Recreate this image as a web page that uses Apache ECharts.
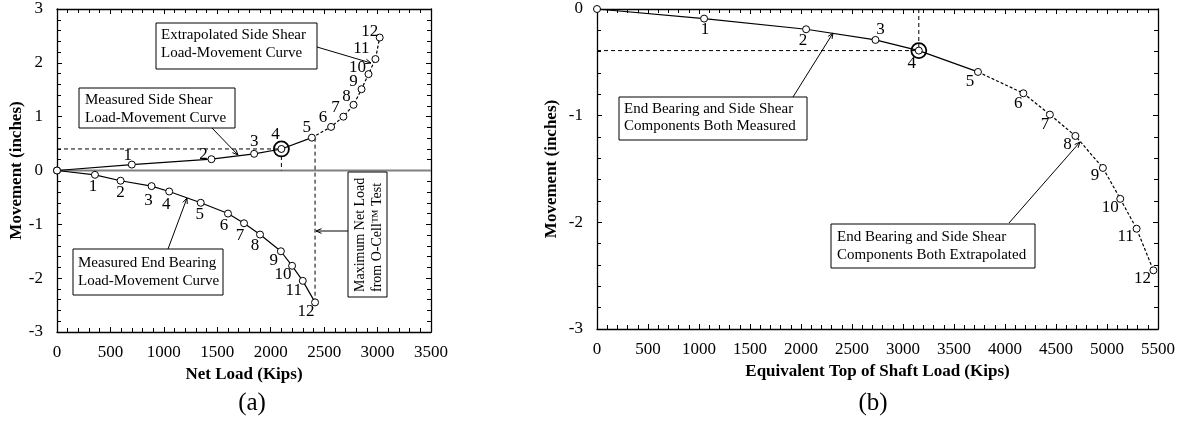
<!DOCTYPE html>
<html>
<head>
<meta charset="utf-8">
<script src="https://cdn.jsdelivr.net/npm/echarts@6/dist/echarts.min.js"></script>
<style>
  html, body { margin: 0; background: #fff; }
  #main { width: 1180px; height: 421px; }
</style>
</head>
<body>
<div id="main"></div>
<script>
// (a) side shear (upward) and end bearing (downward) from the O-cell test
const sideLoad = [0, 700, 1445, 1845, 2100, 2385, 2565, 2680, 2775, 2850, 2915, 2980, 3020]
const sideMove = [0, 0.11, 0.21, 0.31, 0.40, 0.61, 0.81, 1.00, 1.22, 1.51, 1.79, 2.07, 2.47]
const endLoad = [0, 355, 595, 885, 1050, 1345, 1600, 1750, 1900, 2095, 2200, 2300, 2415]
const endMove = [0, -0.08, -0.19, -0.29, -0.39, -0.60, -0.80, -0.98, -1.19, -1.50, -1.77, -2.05, -2.45]
// (b) equivalent top of shaft load
const eqLoad = [0, 1050, 2050, 2730, 3155, 3735, 4180, 4440, 4690, 4960, 5130, 5290, 5455]
const eqMove = [0, -0.09, -0.19, -0.29, -0.39, -0.59, -0.79, -0.99, -1.19, -1.49, -1.78, -2.06, -2.45]
const lastMeasured = 5 // points 0..5 solid, 5..12 extrapolated (dashed)
const measuredPoint = 4
const leftXTicks = [0, 3500, 500]
const leftYTicks = [-3, 3, 1]
const rightXTicks = [0, 5500, 500]
const rightYTicks = [-3, 0, 1]

// label offsets (px) for point numbers
const sideOff = [[0,0],[-4,-9],[-8,-5],[0,-12],[-6,-14],[-5,-10],[-8,-9],[-8,-9],[-7,-8],[-8,-8],[-11,-7],[-14,-11],[-10,-6]]
const endOff = [[0,0],[-2,12],[0,12],[-3,14],[-3,13],[-1,12],[-4,12],[-4,12],[-5,11],[-7,9],[-9,9],[-9,10],[-9,9]]
const eqOff = [[0,0],[1,11],[-3,11],[5,-10],[-7,13],[-8,10],[-5,10],[-5,10],[-8,9],[-8,8],[-10,9],[-11,8],[-11,8]]

const FONT = 'Liberation Serif'
const chart = echarts.init(document.getElementById('main'))

function axis(grid, ticks, pos, name, gap, margin) {
  const main = pos === 'bottom' || pos === 'left'
  return {
    type: 'value', gridIndex: grid, position: pos,
    min: ticks[0], max: ticks[1], interval: ticks[2],
    axisLine: { show: true, onZero: false, lineStyle: { color: '#000', width: 1.3 } },
    axisTick: { show: true, inside: true, length: 5, lineStyle: { color: '#000' } },
    minorTick: { show: true, splitNumber: 5, length: 4, lineStyle: { color: '#000' } },
    splitLine: { show: false },
    axisLabel: { show: main, color: '#000', fontFamily: FONT, fontSize: 17, margin: margin,
      formatter: v => String(v) },
    name: main ? name : '', nameLocation: 'middle', nameGap: gap,
    nameTextStyle: { fontFamily: FONT, fontWeight: 'bold', fontSize: 17, color: '#000' }
  }
}

function pts(xs, ys) { return xs.map((x, i) => [x, ys[i]]) }

function curve(xi, yi, data, dashed) {
  return {
    type: 'line', xAxisIndex: xi, yAxisIndex: yi, data: data, symbol: 'none',
    lineStyle: { color: '#000', width: 1.2, type: dashed ? [3, 2] : 'solid' }, z: 3
  }
}

function markers(xi, yi, xs, ys, offs) {
  return {
    type: 'scatter', xAxisIndex: xi, yAxisIndex: yi, symbol: 'circle', symbolSize: 7,
    itemStyle: { color: '#fff', borderColor: '#000', borderWidth: 1, opacity: 1 }, z: 4,
    data: xs.map((x, i) => ({
      value: [x, ys[i]],
      label: { show: i > 0, formatter: String(i), position: 'inside', offset: offs[i],
        color: '#000', textBorderWidth: 0, fontFamily: FONT, fontSize: 17 }
    }))
  }
}

function bigCircle(xi, yi, x, y) {
  return {
    type: 'scatter', xAxisIndex: xi, yAxisIndex: yi, symbol: 'circle', symbolSize: 15,
    itemStyle: { color: 'rgba(0,0,0,0)', borderColor: '#000', borderWidth: 1.8, opacity: 1 }, z: 5,
    data: [[x, y]]
  }
}

function refLine(xi, yi, data) {
  return {
    type: 'line', xAxisIndex: xi, yAxisIndex: yi, data: data, symbol: 'none',
    lineStyle: { color: '#000', width: 1, type: [4, 3] }, z: 2
  }
}

function box(x, y, w, h, text, tx, ty, lh) {
  return [
    { type: 'rect', shape: { x: x, y: y, width: w, height: h },
      style: { fill: '#fff', stroke: '#000', lineWidth: 1 }, z: 10 },
    { type: 'text', x: tx, y: ty, z: 11,
      style: { text: text, font: '15px "' + FONT + '"', fill: '#000', lineHeight: lh, verticalAlign: 'top' } }
  ]
}

function arrow(x1, y1, x2, y2) {
  const a = Math.atan2(y2 - y1, x2 - x1), L = 6, s = 0.4
  return [
    { type: 'line', shape: { x1: x1, y1: y1, x2: x2, y2: y2 }, style: { stroke: '#000', lineWidth: 1 }, z: 9 },
    { type: 'polyline', z: 9, style: { stroke: '#000', lineWidth: 1, fill: null },
      shape: { points: [
        [x2 - L * Math.cos(a - s), y2 - L * Math.sin(a - s)], [x2, y2],
        [x2 - L * Math.cos(a + s), y2 - L * Math.sin(a + s)] ] } }
  ]
}

const side = pts(sideLoad, sideMove)
const eq = pts(eqLoad, eqMove)

const graphics = [].concat(
  box(156, 23, 161, 46, 'Extrapolated Side Shear\nLoad-Movement Curve', 161, 26, 18),
  arrow(317, 47, 371, 63),
  box(79, 88, 156, 40, 'Measured Side Shear\nLoad-Movement Curve', 85, 91, 18),
  arrow(212, 128, 238, 155),
  box(73, 249, 150, 46, 'Measured End Bearing\nLoad-Movement Curve', 78, 254, 18),
  arrow(168, 249, 187, 198),
  [{ type: 'rect', shape: { x: 348, y: 172, width: 39, height: 125 },
     style: { fill: '#fff', stroke: '#000', lineWidth: 1 }, z: 10 },
   { type: 'text', x: 360, y: 292, rotation: Math.PI / 2, z: 11,
     style: { text: 'Maximum Net Load', font: '14px "' + FONT + '"', fill: '#000', verticalAlign: 'middle', align: 'left' } },
   { type: 'text', x: 377, y: 292, rotation: Math.PI / 2, z: 11,
     style: { text: 'from O-Cell\u2122 Test', font: '14px "' + FONT + '"', fill: '#000', verticalAlign: 'middle', align: 'left' } }],
  arrow(348, 231, 316, 231),
  box(619, 97, 188, 43, 'End Bearing and Side Shear\nComponents Both Measured', 624, 101, 17),
  arrow(793, 97, 833, 33),
  box(831, 224, 204, 44, 'End Bearing and Side Shear\nComponents Both Extrapolated', 837, 228, 18),
  arrow(1009, 223, 1080, 142),
  [{ type: 'text', x: 252, y: 403, style: { text: '(a)', font: '25px "' + FONT + '"', fill: '#000', align: 'center', verticalAlign: 'middle' } },
   { type: 'text', x: 873, y: 403, style: { text: '(b)', font: '25px "' + FONT + '"', fill: '#000', align: 'center', verticalAlign: 'middle' } }]
)

chart.setOption({
  animation: false,
  backgroundColor: '#fff',
  grid: [
    { left: 57, top: 9, width: 374, height: 323 },
    { left: 597, top: 9, width: 561, height: 320 }
  ],
  xAxis: [
    axis(0, leftXTicks, 'bottom', 'Net Load (Kips)', 30, 12),
    axis(0, leftXTicks, 'top', '', 0, 0),
    axis(1, rightXTicks, 'bottom', 'Equivalent Top of Shaft Load (Kips)', 30, 12),
    axis(1, rightXTicks, 'top', '', 0, 0)
  ],
  yAxis: [
    axis(0, leftYTicks, 'left', 'Movement (inches)', 32, 14),
    axis(0, leftYTicks, 'right', '', 0, 0),
    axis(1, rightYTicks, 'left', 'Movement (inches)', 37, 14),
    axis(1, rightYTicks, 'right', '', 0, 0)
  ],
  series: [
    { type: 'line', xAxisIndex: 0, yAxisIndex: 0, symbol: 'none', z: 1,
      data: [[leftXTicks[0], 0], [leftXTicks[1], 0]], lineStyle: { color: '#808080', width: 2 } },
    refLine(0, 0, [[0, sideMove[measuredPoint]], [sideLoad[measuredPoint], sideMove[measuredPoint]]]),
    refLine(0, 0, [[sideLoad[measuredPoint], sideMove[measuredPoint]], [sideLoad[measuredPoint], 0]]),
    refLine(0, 0, [[endLoad[12], sideMove[lastMeasured]], [endLoad[12], endMove[12]]]),
    curve(0, 0, side.slice(0, lastMeasured + 1), false),
    curve(0, 0, side.slice(lastMeasured), true),
    curve(0, 0, pts(endLoad, endMove), false),
    markers(0, 0, sideLoad, sideMove, sideOff),
    markers(0, 0, endLoad, endMove, endOff),
    bigCircle(0, 0, sideLoad[measuredPoint], sideMove[measuredPoint]),

    refLine(2, 2, [[0, eqMove[measuredPoint]], [eqLoad[measuredPoint], eqMove[measuredPoint]]]),
    refLine(2, 2, [[eqLoad[measuredPoint], 0], [eqLoad[measuredPoint], eqMove[measuredPoint]]]),
    curve(2, 2, eq.slice(0, lastMeasured + 1), false),
    curve(2, 2, eq.slice(lastMeasured), true),
    markers(2, 2, eqLoad, eqMove, eqOff),
    bigCircle(2, 2, eqLoad[measuredPoint], eqMove[measuredPoint])
  ],
  graphic: graphics
})
</script>
</body>
</html>
